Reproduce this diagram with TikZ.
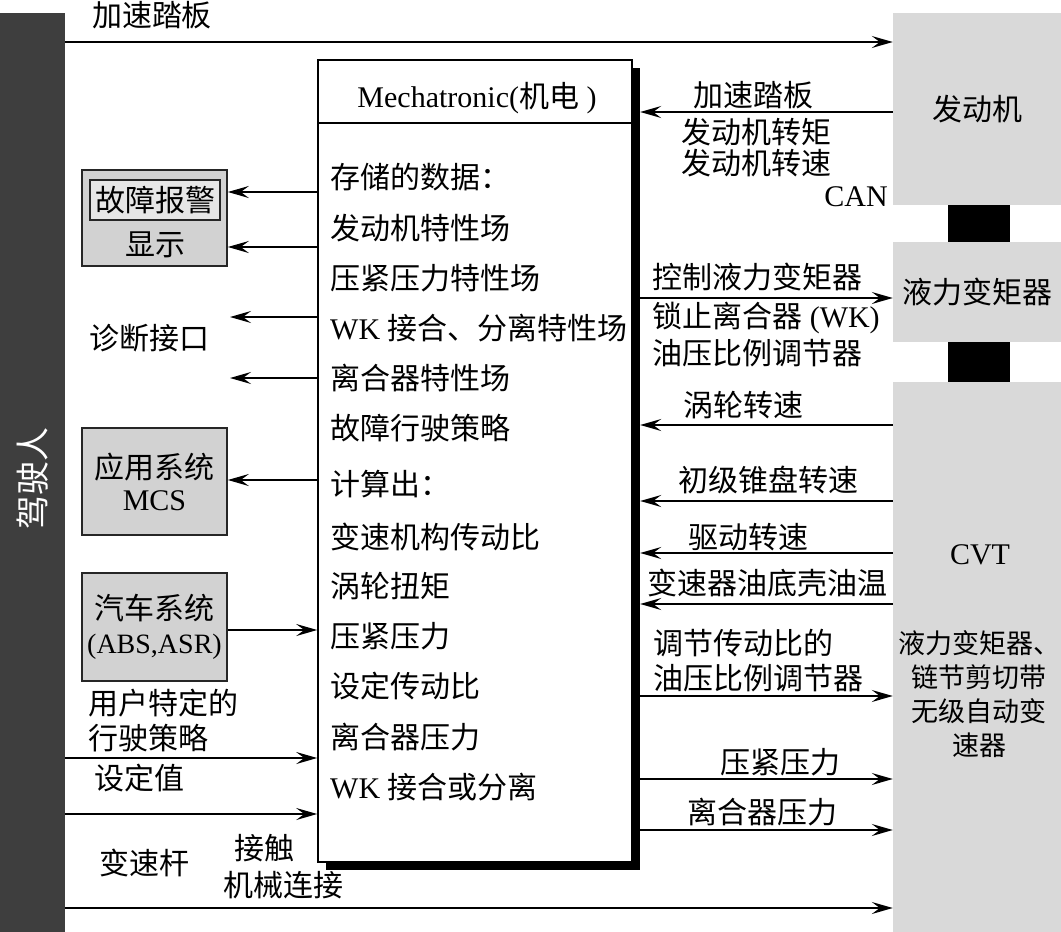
\documentclass[tikz,border=0pt]{standalone}
\usepackage{fontspec}
\setmainfont{Liberation Serif}
\newfontfamily\cjk{Noto Sans CJK SC}
\usetikzlibrary{arrows.meta}
\definecolor{barc}{HTML}{3E3E3E}
\definecolor{boxg}{HTML}{D9D9D9}
\definecolor{lboxg}{HTML}{D2D2D2}
\definecolor{innerg}{HTML}{E6E6E6}
\newcommand\zh[1]{{\cjk #1}}
\begin{document}
\begin{tikzpicture}[x=1pt,y=-1pt,
  every node/.style={font=\fontsize{30}{33}\selectfont, inner sep=0pt},
  arr/.style={line width=1.8pt, -{Stealth[length=21pt,width=12pt,inset=8pt]}},
  sidebox/.style={draw=black!85, line width=1.6pt, fill=lboxg, minimum width=145pt, align=center},
  gblock/.style={fill=boxg, draw=none, minimum width=168pt},
  coupler/.style={fill=black, draw=none, minimum width=62pt},
  body/.style={anchor=west}]
\useasboundingbox (0,0) rectangle (1061,932);
% driver bar
\node[fill=barc, minimum width=65pt, minimum height=919pt] (driver) at (32.5,472.5) {};
\node[rotate=90, text=white, font=\fontsize{34}{36}\selectfont] (drvtxt) at (33,478) {\zh{驾驶人}};
% right blocks
\node[gblock, minimum height=192pt] (engine) at (977,109) {\zh{发动机}};
\node[gblock, minimum height=100pt] (tc) at (977,292) {\zh{液力变矩器}};
\node[gblock, minimum height=550pt] (cvt) at (977,657) {};
\node[coupler, minimum height=37pt] (cpl1) at (979,223.5) {};
\node[coupler, minimum height=40pt] (cpl2) at (979,362) {};
\node (cvtname) at (980,555) {CVT};
\node[align=center, font=\fontsize{27}{34}\selectfont] (cvtdesc) at (979,694) {\zh{液力变矩器、}\\\zh{链节剪切带}\\\zh{无级自动变}\\\zh{速器}};
% mechatronic box
\node[fill=black, minimum width=314pt, minimum height=802pt] (shadow) at (483,469) {};
\node[draw, fill=white, line width=1.6pt, minimum width=314pt, minimum height=802pt] (mech) at (475,461) {};
\draw[line width=1.6pt] (mech.west |- 0,123) -- (mech.east |- 0,123);
\node (hdr) at (477,98) {Mechatronic(\zh{机电} )};
\node[body] (b1) at (330,177) {\zh{存储的数据：}};
\node[body] (b2) at (330,228) {\zh{发动机特性场}};
\node[body] (b3) at (330,278) {\zh{压紧压力特性场}};
\node[body] (b4) at (330,328) {WK \zh{接合、分离特性场}};
\node[body] (b5) at (330,378) {\zh{离合器特性场}};
\node[body] (b6) at (330,428) {\zh{故障行驶策略}};
\node[body] (b7) at (330,484) {\zh{计算出：}};
\node[body] (b8) at (330,537) {\zh{变速机构传动比}};
\node[body] (b9) at (330,586) {\zh{涡轮扭矩}};
\node[body] (b10) at (330,636) {\zh{压紧压力}};
\node[body] (b11) at (330,686) {\zh{设定传动比}};
\node[body] (b12) at (330,737) {\zh{离合器压力}};
\node[body] (b13) at (330,787) {WK \zh{接合或分离}};
% left boxes
\node[sidebox, minimum height=96pt] (alarm) at (154.5,218) {};
\node[draw=black!85, line width=1.6pt, fill=innerg, minimum width=130pt, minimum height=40pt] (alarmtxt) at (155,200) {\zh{故障报警}};
\node (disp) at (155,245) {\zh{显示}};
\node[sidebox, minimum height=107pt, font=\fontsize{30}{32}\selectfont] (mcs) at (154.5,481.5) {\zh{应用系统}\\MCS};
\node[sidebox, minimum height=108pt, font=\fontsize{30}{34}\selectfont] (car) at (154.5,627) {\zh{汽车系统}\\{\fontsize{28}{34}\selectfont (ABS,ASR)}};
\coordinate (diag1) at (230,317);
\coordinate (diag2) at (230,378);
\node (diagtxt) at (149,338) {\zh{诊断接口}};
% left texts
\node (toppedal) at (152,15) {\zh{加速踏板}};
\node[anchor=west] (user1) at (88,703) {\zh{用户特定的}};
\node[anchor=west] (user2) at (88,738) {\zh{行驶策略}};
\node[anchor=west] (setv) at (94,778) {\zh{设定值}};
\node (lever) at (144,863) {\zh{变速杆}};
\node (touch) at (264,848) {\zh{接触}};
\node (mech2) at (283,885) {\zh{机械连接}};
% left arrows
\draw[arr] (mech.west |- 0,192) -- (alarm.east |- 0,192);
\draw[arr] (mech.west |- 0,247) -- (alarm.east |- 0,247);
\draw[arr] (mech.west |- 0,317) -- (diag1);
\draw[arr] (mech.west |- 0,378) -- (diag2);
\draw[arr] (mech.west |- 0,480) -- (mcs.east |- 0,480);
\draw[arr] (car.east |- 0,630) -- (mech.west |- 0,630);
\draw[arr] (driver.east |- 0,758) -- (mech.west |- 0,758);
\draw[arr] (driver.east |- 0,814) -- (mech.west |- 0,814);
\draw[arr] (driver.east |- 0,42) -- (engine.west |- 0,42);
\draw[arr] (driver.east |- 0,908) -- (cvt.west |- 0,908);
% right arrows
\draw[arr] (engine.west |- 0,112) -- (shadow.east |- 0,112);
\draw[arr] (shadow.east |- 0,298) -- (tc.west |- 0,298);
\draw[arr] (cvt.west |- 0,425) -- (shadow.east |- 0,425);
\draw[arr] (cvt.west |- 0,501) -- (shadow.east |- 0,501);
\draw[arr] (cvt.west |- 0,553) -- (shadow.east |- 0,553);
\draw[arr] (cvt.west |- 0,604) -- (shadow.east |- 0,604);
\draw[arr] (shadow.east |- 0,696) -- (cvt.west |- 0,696);
\draw[arr] (shadow.east |- 0,779) -- (cvt.west |- 0,779);
\draw[arr] (shadow.east |- 0,830) -- (cvt.west |- 0,830);
% right labels
\node (r1) at (753,95) {\zh{加速踏板}};
\node (r2) at (756,132) {\zh{发动机转矩}};
\node (r3) at (756,163) {\zh{发动机转速}};
\node[anchor=east] (can) at (888,197) {CAN};
\node (r4) at (757,277) {\zh{控制液力变矩器}};
\node (r5) at (766,318) {\zh{锁止离合器} (WK)};
\node (r6) at (757,353) {\zh{油压比例调节器}};
\node (r7) at (743,405) {\zh{涡轮转速}};
\node (r8) at (768,480) {\zh{初级锥盘转速}};
\node (r9) at (748,537) {\zh{驱动转速}};
\node (r10) at (767,583) {\zh{变速器油底壳油温}};
\node[anchor=west] (r11) at (653,643) {\zh{调节传动比的}};
\node[anchor=west] (r12) at (653,678) {\zh{油压比例调节器}};
\node (r13) at (780,762) {\zh{压紧压力}};
\node (r14) at (762,812) {\zh{离合器压力}};
\end{tikzpicture}
\end{document}
